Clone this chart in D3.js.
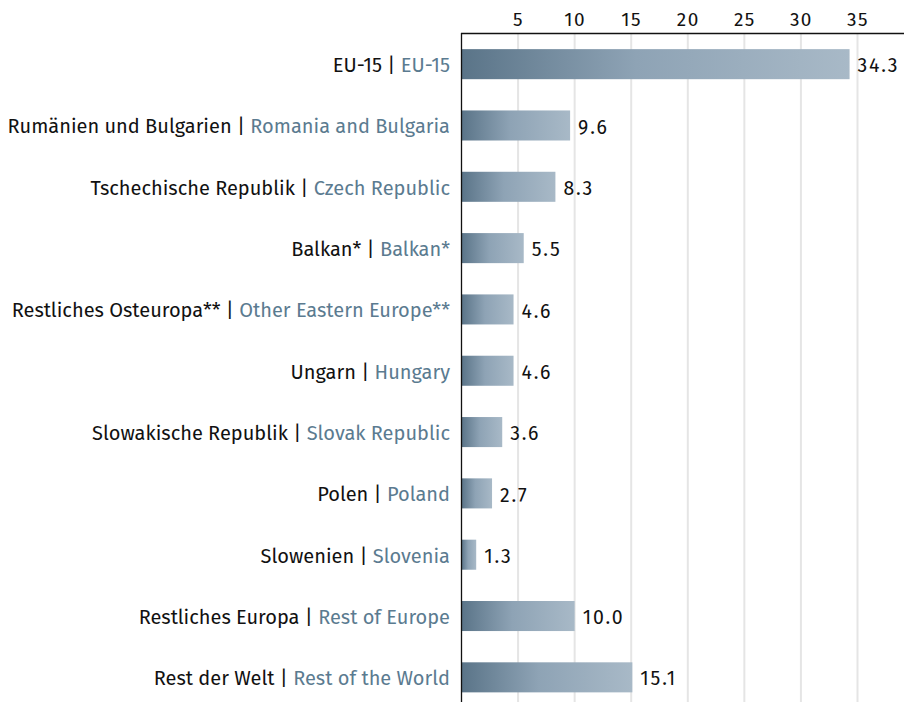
<!DOCTYPE html>
<html><head><meta charset="utf-8">
<script src="https://cdn.jsdelivr.net/npm/d3@7"></script>
<style>body{margin:0;background:#fff}svg{display:block}</style>
</head><body><svg id="c" width="904" height="702"></svg>
<script>
const labelsDe = ["EU-15","Rumänien und Bulgarien","Tschechische Republik","Balkan*","Restliches Osteuropa**","Ungarn","Slowakische Republik","Polen","Slowenien","Restliches Europa","Rest der Welt"];
const labelsEn = ["EU-15","Romania and Bulgaria","Czech Republic","Balkan*","Other Eastern Europe**","Hungary","Slovak Republic","Poland","Slovenia","Rest of Europe","Rest of the World"];
const values = [34.3,9.6,8.3,5.5,4.6,4.6,3.6,2.7,1.3,10.0,15.1];
const ticks = [5,10,15,20,25,30,35];

const svg = d3.select("#c");
const font = "'Fira Sans','Noto Sans',sans-serif";
const x = d3.scaleLinear().domain([0,35]).range([461.5,857.5]);
const y = d3.scaleBand().domain(d3.range(values.length)).range([33.5,708]).paddingInner(0.51).paddingOuter(0.255);

const defs = svg.append("defs");
const g = defs.append("linearGradient").attr("id","grad").attr("x1","0").attr("x2","1").attr("y1","0").attr("y2","0");
g.append("stop").attr("offset","0").attr("stop-color","#5a7488");
g.append("stop").attr("offset","0.45").attr("stop-color","#8ea3b5");
g.append("stop").attr("offset","1").attr("stop-color","#a8b9c7");

// gridlines
svg.append("g").selectAll("line").data(ticks).join("line")
  .attr("x1",d=>x(d)).attr("x2",d=>x(d)).attr("y1",33.5).attr("y2",702)
  .attr("stroke","#e5e5e5").attr("stroke-width",2);

// top axis
const ax = svg.append("g").attr("transform","translate(0,33.5)")
  .call(d3.axisTop(x).tickValues(ticks).tickSize(0).tickPadding(8));
ax.select(".domain").remove();
ax.selectAll("text").attr("font-family",font).attr("font-weight",400).attr("font-size",19).attr("letter-spacing",1.5).attr("fill","#111");
svg.append("line").attr("x1",461).attr("x2",904).attr("y1",33.5).attr("y2",33.5).attr("stroke","#111").attr("stroke-width",1.3);

// bars
svg.append("g").selectAll("rect").data(values).join("rect")
  .attr("x",x(0)).attr("y",(d,i)=>y(i)).attr("height",y.bandwidth())
  .attr("width",d=>x(d)-x(0)).attr("fill","url(#grad)");

// value labels
svg.append("g").selectAll("text").data(values).join("text")
  .attr("x",d=>x(d)+8).attr("y",(d,i)=>y(i)+y.bandwidth()/2+3)
  .attr("dominant-baseline","middle").attr("font-family",font).attr("font-weight",400).attr("font-size",19.5).attr("letter-spacing",1.8).attr("fill","#111")
  .text(d=>d.toFixed(1));

// category labels
const lab = svg.append("g").selectAll("text").data(values).join("text")
  .attr("x",450).attr("y",(d,i)=>y(i)+y.bandwidth()/2+3)
  .attr("text-anchor","end").attr("dominant-baseline","middle")
  .attr("font-family",font).attr("font-weight",400).attr("font-size",20);
lab.append("tspan").attr("fill","#111").text((d,i)=>labelsDe[i]+" | ");
lab.append("tspan").attr("fill","#5b7b90").text((d,i)=>labelsEn[i]);

// left axis line
svg.append("line").attr("x1",461.5).attr("x2",461.5).attr("y1",33).attr("y2",702).attr("stroke","#111").attr("stroke-width",1.3);
</script></body></html>
